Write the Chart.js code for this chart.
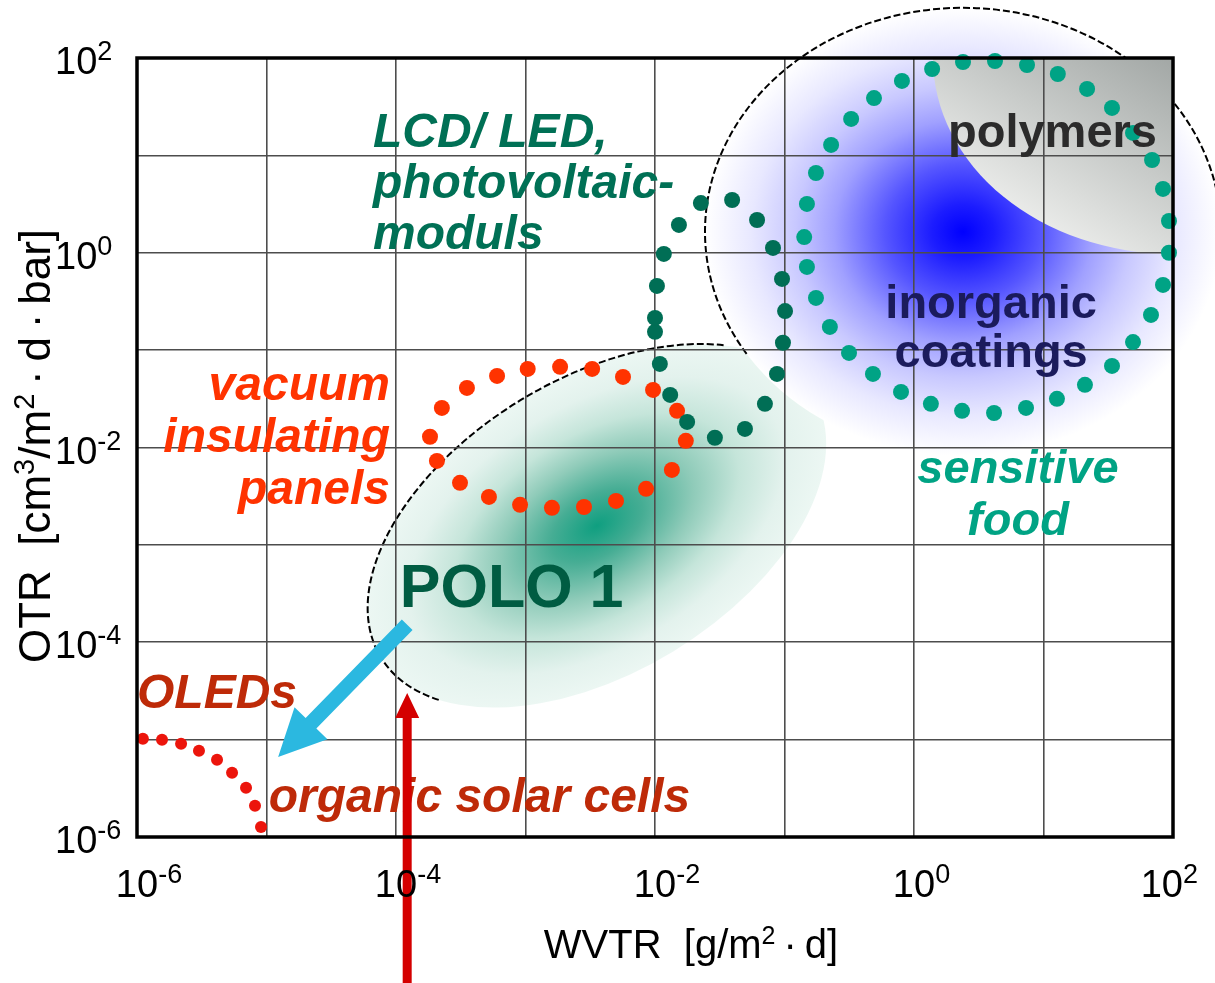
<!DOCTYPE html>
<html>
<head>
<meta charset="utf-8">
<title>OTR vs WVTR</title>
<script src="https://cdn.jsdelivr.net/npm/chart.js@4/dist/chart.umd.min.js"></script>
<style>
  html, body { margin: 0; padding: 0; background: #fff; }
  canvas { display: block; }
</style>
</head>
<body>
<canvas id="chart" width="1215" height="983"></canvas>
<script>
// values: WVTR [g/m2 d] and OTR [cm3/m2 d bar]

// sensitive food ring (teal dots)
const foodWVTR = [1.38, 2.39, 4.22, 7.46, 12.9, 21.7, 33.8, 49.1, 68.9, 83.7, 93.1, 93.1, 83.7, 67.6, 49.1, 33.8, 20.9, 12.7, 7.33, 4.15, 2.35, 1.35, 0.794, 0.482, 0.315, 0.224, 0.175, 0.149, 0.142, 0.149, 0.175, 0.229, 0.327, 0.491, 0.807]
const foodOTR = [77.1, 91, 93.1, 84.7, 68.5, 48.1, 30.7, 17.0, 8.97, 4.52, 2.12, 1.0, 0.467, 0.23, 0.121, 0.0689, 0.044, 0.0316, 0.0255, 0.0226, 0.0238, 0.0281, 0.0372, 0.057, 0.0935, 0.173, 0.344, 0.715, 1.45, 3.17, 6.59, 12.8, 23.7, 38.8, 58.1]

// LCD / LED, photovoltaic modules (dark green dots)
const lcdWVTR = [0.0226, 0.0394, 0.0614, 0.0815, 0.0957, 0.101, 0.0973, 0.0875, 0.0706, 0.0495, 0.029, 0.0177, 0.0131, 0.0109, 0.01, 0.01, 0.01035, 0.0117, 0.0153]
const lcdOTR = [3.24, 3.48, 2.17, 1.12, 0.538, 0.252, 0.119, 0.057, 0.0281, 0.0155, 0.0126, 0.0183, 0.0347, 0.0721, 0.154, 0.214, 0.456, 0.973, 1.93]

// vacuum insulating panels (orange dots)
const vipWVTR = [2.07e-4, 1.83e-4, 2.26e-4, 3.53e-4, 6.03e-4, 1.04e-3, 1.85e-3, 3.27e-3, 5.66e-3, 9.66e-3, 1.48e-2, 1.73e-2, 1.35e-2, 8.53e-3, 5.0e-3, 2.83e-3, 1.6e-3, 9.08e-4, 5.22e-4, 3.12e-4]
const vipOTR = [7.28e-3, 1.29e-2, 2.55e-2, 4.09e-2, 5.43e-2, 6.41e-2, 6.73e-2, 6.41e-2, 5.31e-2, 3.9e-2, 2.38e-2, 1.17e-2, 5.89e-3, 3.76e-3, 2.83e-3, 2.45e-3, 2.4e-3, 2.58e-3, 3.11e-3, 4.34e-3]

// OLEDs / organic solar cells (red dots)
const oledWVTR = [1.11e-6, 1.56e-6, 2.19e-6, 3.01e-6, 4.15e-6, 5.42e-6, 6.95e-6, 8.15e-6, 9.07e-6]
const oledOTR = [1.02e-5, 9.95e-6, 9.06e-6, 7.67e-6, 6.21e-6, 4.56e-6, 3.2e-6, 2.09e-6, 1.27e-6]

// axes
const gridDecades = [1e-6, 1e-5, 1e-4, 1e-3, 1e-2, 1e-1, 1e0, 1e1, 1e2]
const xTickExps = [-6, -4, -2, 0, 2]
const yTickExps = [-6, -4, -2, 0, 2]

const FONT = '"Liberation Sans", Arial, Helvetica, sans-serif'

// shaded regions, placed in data units, sized in px
const poloCloud = {
  at: [3.56e-3, 1.57e-3], rx: 253, ry: 147, rot: -31.3,
  outline: [-37, 153],
  stops: [[0, '#0f9f80'], [0.2, '#46ad94'], [0.42, '#8fcbb9'], [0.62, '#c5e5da'], [0.82, '#e3f2ed'], [1, '#ecf7f3']]
}
const inorganicCloud = {
  at: [2.39, 1.64], rx: 258, ry: 224,
  outline: [147, 360],
  stops: [[0, '#0000ff'], [0.12, '#1c1cff'], [0.3, '#5555ff'], [0.5, '#a0a0ff'], [0.65, '#c8c8ff'], [0.82, '#e8e8ff'], [1, '#ffffff']]
}
const polymerCap = {
  at: [1e2, 1e2], rx: 240, ry: 196,
  light: '#eeefed', dark: '#a2a7a5'
}

const labels = [
  { lines: ['LCD/ LED,', 'photovoltaic-', 'moduls'], at: [6.64e-5, 12.2], align: 'left', style: 'italic bold 48px', lh: 51, color: '#007055' },
  { lines: ['vacuum', 'insulating', 'panels'], at: [8.99e-5, 3.08e-2], align: 'right', style: 'italic bold 48px', lh: 52, color: '#ff3300' },
  { lines: ['OLEDs'], at: [1e-6, 2.12e-5], align: 'left', style: 'italic bold 48px', lh: 0, color: '#be2a08' },
  { lines: ['organic solar cells'], at: [1.04e-5, 1.82e-6], align: 'left', style: 'italic bold 48px', lh: 0, color: '#be2a08' },
  { lines: ['POLO 1'], at: [1.07e-4, 2.31e-4], align: 'left', style: 'bold 61px', lh: 0, color: '#005c42' },
  { lines: ['polymers'], at: [1.83, 12.2], align: 'left', style: 'bold 47px', lh: 0, color: '#2b2b2b' },
  { lines: ['inorganic', 'coatings'], at: [3.94, 0.214], align: 'center', style: 'bold 47px', lh: 49, color: '#1b1b5c' },
  { lines: ['sensitive', 'food'], at: [6.35, 4.34e-3], align: 'center', style: 'italic bold 47px', lh: 52, color: '#00a384' },
]

const arrows = [
  { from: [1.22e-4, 1.51e-4], to: [1.23e-5, 6.65e-6], shaft: 15, headLen: 47, headW: 46, color: '#2bb8e0' },
  { from: [1.22e-4, null], to: [1.22e-4, 3.02e-5], shaft: 9, headLen: 25, headW: 24, color: '#d40000' },
]

const toPoints = (xs, ys) => xs.map((x, i) => ({ x, y: ys[i] }))

function ellipseFill(ctx, cx, cy, r, rot, stops) {
  ctx.save()
  ctx.translate(cx, cy)
  ctx.rotate((rot || 0) * Math.PI / 180)
  ctx.scale(1, r.ry / r.rx)
  const g = ctx.createRadialGradient(0, 0, 0, 0, 0, r.rx)
  stops.forEach(([o, c]) => g.addColorStop(o, c))
  ctx.fillStyle = g
  ctx.beginPath()
  ctx.arc(0, 0, r.rx, 0, Math.PI * 2)
  ctx.fill()
  ctx.restore()
}

function dashedArc(ctx, cx, cy, rx, ry, rot, a0, a1, ccw) {
  const d = Math.PI / 180
  ctx.save()
  ctx.strokeStyle = '#000'
  ctx.lineWidth = 2
  ctx.setLineDash([7, 3])
  ctx.beginPath()
  ctx.ellipse(cx, cy, rx, ry, rot * d, a0 * d, a1 * d, ccw)
  ctx.stroke()
  ctx.restore()
}

function drawArrow(ctx, x1, y1, x2, y2, a) {
  const len = Math.hypot(x2 - x1, y2 - y1)
  ctx.save()
  ctx.translate(x1, y1)
  ctx.rotate(Math.atan2(y2 - y1, x2 - x1))
  ctx.beginPath()
  ctx.moveTo(0, -a.shaft / 2)
  ctx.lineTo(len - a.headLen, -a.shaft / 2)
  ctx.lineTo(len - a.headLen, -a.headW / 2)
  ctx.lineTo(len, 0)
  ctx.lineTo(len - a.headLen, a.headW / 2)
  ctx.lineTo(len - a.headLen, a.shaft / 2)
  ctx.lineTo(0, a.shaft / 2)
  ctx.closePath()
  ctx.fillStyle = a.color
  ctx.fill()
  ctx.restore()
}

// text in runs, some raised as superscripts
function measureRuns(ctx, runs, size, supScale) {
  return runs.map(r => {
    const s = r.sup ? Math.round(size * supScale) : size
    ctx.font = `${s}px ${FONT}`
    return { t: r.t, s, sup: r.sup, w: ctx.measureText(r.t).width }
  })
}

function fillRuns(ctx, parts, x, y, rise) {
  let cx = x
  parts.forEach(p => {
    ctx.font = `${p.s}px ${FONT}`
    ctx.fillText(p.t, cx, p.sup ? y - rise : y)
    cx += p.w
  })
}

const powerRuns = e => [{ t: '10' }, { t: String(e), sup: true }]

const decor = {
  id: 'decor',
  beforeDraw(chart) {
    const { ctx, chartArea: area } = chart
    const px = v => chart.scales.x.getPixelForValue(v)
    const py = v => chart.scales.y.getPixelForValue(v)

    ctx.save()
    ctx.fillStyle = '#fff'
    ctx.fillRect(0, 0, chart.width, chart.height)

    // POLO 1 cloud
    const pc = poloCloud
    const pcx = px(pc.at[0]), pcy = py(pc.at[1])
    ellipseFill(ctx, pcx, pcy, pc, pc.rot, pc.stops)

    // inorganic coatings cloud, covers the cloud below
    const ic = inorganicCloud
    const icx = px(ic.at[0]), icy = py(ic.at[1])
    ellipseFill(ctx, icx, icy, ic, 0, ic.stops)
    dashedArc(ctx, icx, icy, ic.rx, ic.ry, 0, ic.outline[0], ic.outline[1], false)
    dashedArc(ctx, pcx, pcy, pc.rx, pc.ry, pc.rot, pc.outline[0], pc.outline[1], true)

    // polymers cap in the top right corner
    const gx = px(polymerCap.at[0]), gy = py(polymerCap.at[1])
    ctx.save()
    ctx.beginPath()
    ctx.rect(area.left, area.top, area.width, area.height)
    ctx.clip()
    const lg = ctx.createLinearGradient(gx - 113, gy + 192, gx, gy)
    lg.addColorStop(0, polymerCap.light)
    lg.addColorStop(1, polymerCap.dark)
    ctx.fillStyle = lg
    ctx.beginPath()
    ctx.ellipse(gx, gy, polymerCap.rx, polymerCap.ry, 0, 0, Math.PI * 2)
    ctx.fill()
    ctx.restore()

    ctx.restore()
  },
  afterDraw(chart) {
    const { ctx, chartArea: area } = chart
    const px = v => chart.scales.x.getPixelForValue(v)
    const py = v => chart.scales.y.getPixelForValue(v)

    ctx.save()
    ctx.textBaseline = 'alphabetic'

    // labels
    labels.forEach(l => {
      ctx.font = `${l.style} ${FONT}`
      ctx.fillStyle = l.color
      ctx.textAlign = l.align
      const x = px(l.at[0]), y = py(l.at[1])
      l.lines.forEach((t, i) => ctx.fillText(t, x, y + i * l.lh))
    })

    // arrows
    arrows.forEach(a => {
      const y1 = a.from[1] === null ? chart.height + 2 : py(a.from[1])
      drawArrow(ctx, px(a.from[0]), y1, px(a.to[0]), py(a.to[1]), a)
    })

    // frame
    ctx.strokeStyle = '#000'
    ctx.lineWidth = 3.5
    ctx.strokeRect(area.left, area.top, area.right - area.left, area.bottom - area.top)

    // tick labels
    ctx.fillStyle = '#000'
    ctx.textAlign = 'left'
    yTickExps.forEach(e => {
      const parts = measureRuns(ctx, powerRuns(e), 38, 0.7)
      fillRuns(ctx, parts, area.left - 82, py(Math.pow(10, e)) + 16, 14)
    })
    xTickExps.forEach(e => {
      const parts = measureRuns(ctx, powerRuns(e), 38, 0.7)
      const total = parts[0].w + parts[1].w
      let left = px(Math.pow(10, e)) - parts[0].w / 2
      left = Math.min(left, chart.width - 17 - total)
      fillRuns(ctx, parts, left, area.bottom + 60, 14)
    })

    // axis titles
    const xt = measureRuns(ctx, [{ t: 'WVTR  [g/m' }, { t: '2', sup: true }, { t: '\u2009·\u2009d]' }], 40, 0.62)
    const xw = xt.reduce((s, p) => s + p.w, 0)
    fillRuns(ctx, xt, 691 - xw / 2, 958, 14)

    const yt = measureRuns(ctx, [{ t: 'OTR  [cm' }, { t: '3', sup: true }, { t: '/m' }, { t: '2', sup: true }, { t: '\u2009·\u2009d\u2009·\u2009bar]' }], 44, 0.65)
    const yw = yt.reduce((s, p) => s + p.w, 0)
    ctx.translate(50, 446)
    ctx.rotate(-Math.PI / 2)
    fillRuns(ctx, yt, -yw / 2, 0, 16)

    ctx.restore()
  }
}

const dots = (label, xs, ys, color, r) => ({
  label,
  data: toPoints(xs, ys),
  backgroundColor: color,
  borderWidth: 0,
  pointRadius: r,
  pointHoverRadius: r,
  clip: false
})

new Chart(document.getElementById('chart'), {
  type: 'scatter',
  data: {
    datasets: [
      dots('sensitive food', foodWVTR, foodOTR, '#00a385', 8),
      dots('LCD/ LED, photovoltaic-moduls', lcdWVTR, lcdOTR, '#006e55', 8),
      dots('vacuum insulating panels', vipWVTR, vipOTR, '#ff3300', 8),
      dots('OLEDs', oledWVTR, oledOTR, '#ec150c', 6),
    ]
  },
  options: {
    responsive: false,
    animation: false,
    events: [],
    layout: { padding: { left: 137, top: 58, right: 42, bottom: 146 } },
    scales: {
      x: {
        type: 'logarithmic',
        min: 1e-6,
        max: 1e2,
        afterBuildTicks: s => { s.ticks = gridDecades.map(v => ({ value: v })) },
        ticks: { display: false },
        grid: { color: '#4d4d4d', lineWidth: 1.6, drawTicks: false },
        border: { display: false }
      },
      y: {
        type: 'logarithmic',
        min: 1e-6,
        max: 1e2,
        afterBuildTicks: s => { s.ticks = gridDecades.map(v => ({ value: v })) },
        ticks: { display: false },
        grid: { color: '#4d4d4d', lineWidth: 1.6, drawTicks: false },
        border: { display: false }
      }
    },
    plugins: {
      legend: { display: false },
      tooltip: { enabled: false }
    }
  },
  plugins: [decor]
})
</script>
</body>
</html>
